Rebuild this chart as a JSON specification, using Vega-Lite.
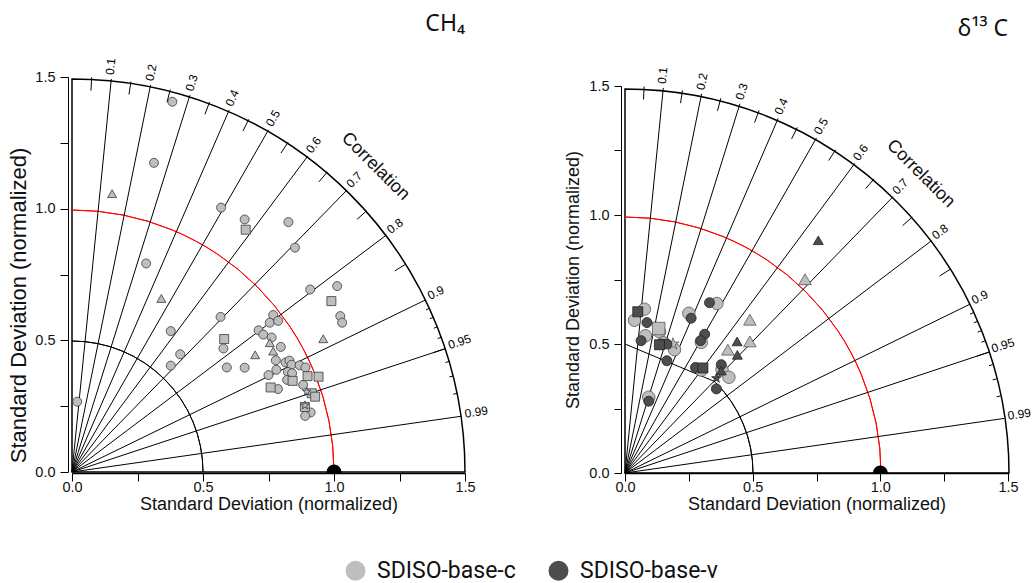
{
  "$schema": "https://vega.github.io/schema/vega-lite/v6.json",
  "background": "white",
  "padding": {"left": 7, "top": 12, "right": 5, "bottom": 6},
  "config": {
    "view": {"stroke": null},
    "axis": {"labelFont": "Liberation Sans", "titleFont": "Liberation Sans", "labelFontSize": 14.5, "titleFontSize": 18, "titleFontWeight": "normal", "labelColor": "#111", "titleColor": "#111", "domainColor": "#000", "tickColor": "#000", "grid": false, "labelFlush": false, "labelOverlap": false},
    "title": {"font": "Noto Sans", "fontSize": 23, "fontWeight": "normal", "color": "#111", "anchor": "end", "frame": "group"}
  },
  "datasets": {
    "outer": [{"x0": 0, "y0": 0, "r": 1.5, "r0": 0}],
    "red": [{"x0": 0, "y0": 0, "r": 1.0}],
    "half": [{"x0": 0, "y0": 0, "r": 0.5}],
    "radials": [
      {"x0": 0, "y0": 0, "x": 0.15, "y": 1.49248}, {"x0": 0, "y0": 0, "x": 0.30, "y": 1.46969}, {"x0": 0, "y0": 0, "x": 0.45, "y": 1.43091}, {"x0": 0, "y0": 0, "x": 0.60, "y": 1.37477},
      {"x0": 0, "y0": 0, "x": 0.75, "y": 1.29904}, {"x0": 0, "y0": 0, "x": 0.90, "y": 1.2}, {"x0": 0, "y0": 0, "x": 1.05, "y": 1.07121}, {"x0": 0, "y0": 0, "x": 1.2, "y": 0.9},
      {"x0": 0, "y0": 0, "x": 1.35, "y": 0.65383}, {"x0": 0, "y0": 0, "x": 1.425, "y": 0.46837}, {"x0": 0, "y0": 0, "x": 1.485, "y": 0.2116}
    ],
    "ticks": [
      {"x1": 0.0725, "y1": 1.44819, "x2": 0.075, "y2": 1.49812},
      {"x1": 0.2175, "y1": 1.4336, "x2": 0.225, "y2": 1.48303},
      {"x1": 0.3625, "y1": 1.40397, "x2": 0.375, "y2": 1.45237},
      {"x1": 0.5075, "y1": 1.35829, "x2": 0.525, "y2": 1.40513},
      {"x1": 0.6525, "y1": 1.29489, "x2": 0.675, "y2": 1.33954},
      {"x1": 0.7975, "y1": 1.21098, "x2": 0.825, "y2": 1.25274},
      {"x1": 0.9425, "y1": 1.1019, "x2": 0.975, "y2": 1.1399},
      {"x1": 1.0875, "y1": 0.95909, "x2": 1.125, "y2": 0.99216},
      {"x1": 1.2325, "y1": 0.76383, "x2": 1.275, "y2": 0.79017},
      {"x1": 1.3775, "y1": 0.45276, "x2": 1.425, "y2": 0.46837},
      {"x1": 1.35135, "y1": 0.6157, "x2": 1.365, "y2": 0.62191},
      {"x1": 1.3662, "y1": 0.582, "x2": 1.38, "y2": 0.58788},
      {"x1": 1.38105, "y1": 0.54584, "x2": 1.395, "y2": 0.55136},
      {"x1": 1.3959, "y1": 0.50664, "x2": 1.41, "y2": 0.51176},
      {"x1": 1.4256, "y1": 0.4158, "x2": 1.44, "y2": 0.42},
      {"x1": 1.44045, "y1": 0.361, "x2": 1.455, "y2": 0.36465},
      {"x1": 1.4553, "y1": 0.29552, "x2": 1.47, "y2": 0.2985}
    ],
    "labels": [
      {"lab": "0.1", "x": 0.1515, "y": 1.50741, "rot": -84.26},
      {"lab": "0.2", "x": 0.303, "y": 1.4844, "rot": -78.46},
      {"lab": "0.3", "x": 0.4545, "y": 1.44522, "rot": -72.54},
      {"lab": "0.4", "x": 0.606, "y": 1.38853, "rot": -66.42},
      {"lab": "0.5", "x": 0.7575, "y": 1.31203, "rot": -60},
      {"lab": "0.6", "x": 0.909, "y": 1.212, "rot": -53.13},
      {"lab": "0.7", "x": 1.0605, "y": 1.08192, "rot": -45.57},
      {"lab": "0.8", "x": 1.212, "y": 0.909, "rot": -36.87},
      {"lab": "0.9", "x": 1.3635, "y": 0.66037, "rot": -25.84},
      {"lab": "0.95", "x": 1.43925, "y": 0.47306, "rot": -18.19},
      {"lab": "0.99", "x": 1.49985, "y": 0.21372, "rot": -8.11}
    ],
    "corrtitle": [{"t": "Correlation", "x": 1.158, "y": 1.16}],
    "refpoint": [{"x": 1.0, "y": 0.0}],
    "chord": [{"x1": 0, "y1": 0.5, "x2": 0.35355, "y2": 0.35355}],
    "ch4": [
      {"x": 0.383, "y": 1.406, "shape": "circle", "model": "SDISO-base-c"},
      {"x": 0.313, "y": 1.174, "shape": "circle", "model": "SDISO-base-c"},
      {"x": 0.569, "y": 1.004, "shape": "circle", "model": "SDISO-base-c"},
      {"x": 0.659, "y": 0.959, "shape": "circle", "model": "SDISO-base-c"},
      {"x": 0.826, "y": 0.949, "shape": "circle", "model": "SDISO-base-c"},
      {"x": 0.851, "y": 0.852, "shape": "circle", "model": "SDISO-base-c"},
      {"x": 0.283, "y": 0.792, "shape": "circle", "model": "SDISO-base-c"},
      {"x": 1.012, "y": 0.706, "shape": "circle", "model": "SDISO-base-c"},
      {"x": 0.909, "y": 0.693, "shape": "circle", "model": "SDISO-base-c"},
      {"x": 1.024, "y": 0.592, "shape": "circle", "model": "SDISO-base-c"},
      {"x": 1.031, "y": 0.567, "shape": "circle", "model": "SDISO-base-c"},
      {"x": 0.567, "y": 0.589, "shape": "circle", "model": "SDISO-base-c"},
      {"x": 0.768, "y": 0.596, "shape": "circle", "model": "SDISO-base-c"},
      {"x": 0.755, "y": 0.567, "shape": "circle", "model": "SDISO-base-c"},
      {"x": 0.787, "y": 0.574, "shape": "circle", "model": "SDISO-base-c"},
      {"x": 0.377, "y": 0.535, "shape": "circle", "model": "SDISO-base-c"},
      {"x": 0.712, "y": 0.538, "shape": "circle", "model": "SDISO-base-c"},
      {"x": 0.73, "y": 0.522, "shape": "circle", "model": "SDISO-base-c"},
      {"x": 0.762, "y": 0.511, "shape": "circle", "model": "SDISO-base-c"},
      {"x": 0.578, "y": 0.469, "shape": "circle", "model": "SDISO-base-c"},
      {"x": 0.797, "y": 0.475, "shape": "circle", "model": "SDISO-base-c"},
      {"x": 0.413, "y": 0.447, "shape": "circle", "model": "SDISO-base-c"},
      {"x": 0.377, "y": 0.404, "shape": "circle", "model": "SDISO-base-c"},
      {"x": 0.591, "y": 0.397, "shape": "circle", "model": "SDISO-base-c"},
      {"x": 0.659, "y": 0.396, "shape": "circle", "model": "SDISO-base-c"},
      {"x": 0.778, "y": 0.424, "shape": "circle", "model": "SDISO-base-c"},
      {"x": 0.815, "y": 0.416, "shape": "circle", "model": "SDISO-base-c"},
      {"x": 0.83, "y": 0.423, "shape": "circle", "model": "SDISO-base-c"},
      {"x": 0.838, "y": 0.407, "shape": "circle", "model": "SDISO-base-c"},
      {"x": 0.869, "y": 0.405, "shape": "circle", "model": "SDISO-base-c"},
      {"x": 0.891, "y": 0.397, "shape": "circle", "model": "SDISO-base-c"},
      {"x": 0.78, "y": 0.388, "shape": "circle", "model": "SDISO-base-c"},
      {"x": 0.75, "y": 0.368, "shape": "circle", "model": "SDISO-base-c"},
      {"x": 0.824, "y": 0.38, "shape": "circle", "model": "SDISO-base-c"},
      {"x": 0.84, "y": 0.375, "shape": "circle", "model": "SDISO-base-c"},
      {"x": 0.821, "y": 0.35, "shape": "circle", "model": "SDISO-base-c"},
      {"x": 0.786, "y": 0.315, "shape": "circle", "model": "SDISO-base-c"},
      {"x": 0.882, "y": 0.331, "shape": "circle", "model": "SDISO-base-c"},
      {"x": 0.911, "y": 0.226, "shape": "circle", "model": "SDISO-base-c"},
      {"x": 0.89, "y": 0.213, "shape": "circle", "model": "SDISO-base-c"},
      {"x": 0.02, "y": 0.267, "shape": "circle", "model": "SDISO-base-c"},
      {"x": 0.153, "y": 1.057, "shape": "triangle", "model": "SDISO-base-c"},
      {"x": 0.341, "y": 0.659, "shape": "triangle", "model": "SDISO-base-c"},
      {"x": 0.959, "y": 0.506, "shape": "triangle", "model": "SDISO-base-c"},
      {"x": 0.755, "y": 0.491, "shape": "triangle", "model": "SDISO-base-c"},
      {"x": 0.768, "y": 0.459, "shape": "triangle", "model": "SDISO-base-c"},
      {"x": 0.699, "y": 0.445, "shape": "triangle", "model": "SDISO-base-c"},
      {"x": 0.663, "y": 0.92, "shape": "square", "model": "SDISO-base-c"},
      {"x": 0.99, "y": 0.649, "shape": "square", "model": "SDISO-base-c"},
      {"x": 0.581, "y": 0.505, "shape": "square", "model": "SDISO-base-c"},
      {"x": 0.899, "y": 0.364, "shape": "square", "model": "SDISO-base-c"},
      {"x": 0.941, "y": 0.362, "shape": "square", "model": "SDISO-base-c"},
      {"x": 0.842, "y": 0.346, "shape": "square", "model": "SDISO-base-c"},
      {"x": 0.758, "y": 0.321, "shape": "square", "model": "SDISO-base-c"},
      {"x": 0.915, "y": 0.299, "shape": "square", "model": "SDISO-base-c"},
      {"x": 0.928, "y": 0.286, "shape": "square", "model": "SDISO-base-c"},
      {"x": 0.889, "y": 0.247, "shape": "square", "model": "SDISO-base-c"},
      {"x": 0.896, "y": 0.305, "shape": "star", "model": "SDISO-base-c"},
      {"x": 0.889, "y": 0.253, "shape": "star", "model": "SDISO-base-c"}
    ],
    "d13c_c": [
      {"x": 0.076, "y": 0.635, "shape": "circle", "model": "SDISO-base-c"},
      {"x": 0.037, "y": 0.592, "shape": "circle", "model": "SDISO-base-c"},
      {"x": 0.135, "y": 0.548, "shape": "circle", "model": "SDISO-base-c"},
      {"x": 0.08, "y": 0.532, "shape": "circle", "model": "SDISO-base-c"},
      {"x": 0.15, "y": 0.505, "shape": "circle", "model": "SDISO-base-c"},
      {"x": 0.194, "y": 0.478, "shape": "circle", "model": "SDISO-base-c"},
      {"x": 0.25, "y": 0.619, "shape": "circle", "model": "SDISO-base-c"},
      {"x": 0.36, "y": 0.657, "shape": "circle", "model": "SDISO-base-c"},
      {"x": 0.299, "y": 0.506, "shape": "circle", "model": "SDISO-base-c"},
      {"x": 0.299, "y": 0.399, "shape": "circle", "model": "SDISO-base-c"},
      {"x": 0.38, "y": 0.4, "shape": "circle", "model": "SDISO-base-c"},
      {"x": 0.407, "y": 0.371, "shape": "circle", "model": "SDISO-base-c"},
      {"x": 0.093, "y": 0.294, "shape": "circle", "model": "SDISO-base-c"},
      {"x": 0.705, "y": 0.751, "shape": "triangle", "model": "SDISO-base-c"},
      {"x": 0.489, "y": 0.594, "shape": "triangle", "model": "SDISO-base-c"},
      {"x": 0.489, "y": 0.51, "shape": "triangle", "model": "SDISO-base-c"},
      {"x": 0.403, "y": 0.478, "shape": "triangle", "model": "SDISO-base-c"},
      {"x": 0.132, "y": 0.56, "shape": "square", "model": "SDISO-base-c"},
      {"x": 0.188, "y": 0.5, "shape": "star", "model": "SDISO-base-c"}
    ],
    "d13c_v": [
      {"x": 0.086, "y": 0.583, "shape": "circle", "model": "SDISO-base-v"},
      {"x": 0.063, "y": 0.513, "shape": "circle", "model": "SDISO-base-v"},
      {"x": 0.141, "y": 0.5, "shape": "circle", "model": "SDISO-base-v"},
      {"x": 0.164, "y": 0.5, "shape": "circle", "model": "SDISO-base-v"},
      {"x": 0.164, "y": 0.435, "shape": "circle", "model": "SDISO-base-v"},
      {"x": 0.259, "y": 0.6, "shape": "circle", "model": "SDISO-base-v"},
      {"x": 0.331, "y": 0.66, "shape": "circle", "model": "SDISO-base-v"},
      {"x": 0.312, "y": 0.538, "shape": "circle", "model": "SDISO-base-v"},
      {"x": 0.296, "y": 0.513, "shape": "circle", "model": "SDISO-base-v"},
      {"x": 0.276, "y": 0.409, "shape": "circle", "model": "SDISO-base-v"},
      {"x": 0.377, "y": 0.42, "shape": "circle", "model": "SDISO-base-v"},
      {"x": 0.358, "y": 0.326, "shape": "circle", "model": "SDISO-base-v"},
      {"x": 0.093, "y": 0.278, "shape": "circle", "model": "SDISO-base-v"},
      {"x": 0.05, "y": 0.625, "shape": "square", "model": "SDISO-base-v"},
      {"x": 0.305, "y": 0.407, "shape": "square", "model": "SDISO-base-v"},
      {"x": 0.135, "y": 0.497, "shape": "square", "model": "SDISO-base-v"},
      {"x": 0.757, "y": 0.902, "shape": "triangle", "model": "SDISO-base-v"},
      {"x": 0.439, "y": 0.51, "shape": "triangle", "model": "SDISO-base-v"},
      {"x": 0.44, "y": 0.458, "shape": "triangle", "model": "SDISO-base-v"},
      {"x": 0.377, "y": 0.397, "shape": "triangle", "model": "SDISO-base-v"},
      {"x": 0.358, "y": 0.367, "shape": "star", "model": "SDISO-base-v"}
    ]
  },
  "spacing": 160,
  "bounds": "flush",
  "resolve": {"scale": {"color": "shared", "shape": "shared"}, "legend": {"color": "shared"}},
  "hconcat": [
    {
      "width": 393,
      "height": 397,
      "title": {"text": "CH₄", "offset": 22},
      "layer": [
        {
          "data": {"name": "outer"},
          "mark": {"type": "arc", "theta": 0, "theta2": 1.5708, "fillOpacity": 0, "stroke": "#000", "strokeWidth": 1.5},
          "encoding": {
            "x": {"field": "x0", "type": "quantitative", "scale": {"domain": [0, 1.5], "nice": false, "zero": false},
              "axis": {"title": "Standard Deviation (normalized)", "values": [0, 0.25, 0.5, 0.75, 1, 1.25, 1.5], "labelExpr": "datum.value % 0.5 === 0 ? format(datum.value, '.1f') : ''", "offset": 0, "tickSize": 8, "labelPadding": -1, "titlePadding": 2, "domainWidth": 1.5}},
            "y": {"field": "y0", "type": "quantitative", "scale": {"domain": [0, 1.5], "range": [396, 1], "nice": false, "zero": false},
              "axis": {"title": "Standard Deviation (normalized)", "values": [0, 0.25, 0.5, 0.75, 1, 1.25, 1.5], "labelExpr": "datum.value % 0.5 === 0 ? format(datum.value, '.1f') : ''", "offset": 4, "tickSize": 8, "labelPadding": 5, "titleFontSize": 22, "titlePadding": 4, "titleY": 229}},
            "radius": {"field": "r", "type": "quantitative", "scale": {"type": "linear", "domain": [0, 1.5], "range": [0, 393], "zero": true}},
            "radius2": {"field": "r0"}
          }
        },
        {
          "data": {"name": "red"},
          "mark": {"type": "arc", "theta": 0, "theta2": 1.5708, "fillOpacity": 0, "stroke": "#ff0000", "strokeWidth": 1},
          "encoding": {
            "x": {"field": "x0", "type": "quantitative"},
            "y": {"field": "y0", "type": "quantitative"},
            "radius": {"field": "r", "type": "quantitative", "scale": {"type": "linear", "domain": [0, 1.5], "range": [0, 393], "zero": true}},
            "radius2": {"field": "r"}
          }
        },
        {
          "data": {"name": "half"},
          "mark": {"type": "arc", "theta": 0, "theta2": 1.5708, "fillOpacity": 0, "stroke": "#000", "strokeWidth": 1},
          "encoding": {
            "x": {"field": "x0", "type": "quantitative"},
            "y": {"field": "y0", "type": "quantitative"},
            "radius": {"field": "r", "type": "quantitative", "scale": {"type": "linear", "domain": [0, 1.5], "range": [0, 393], "zero": true}},
            "radius2": {"field": "r"}
          }
        },
        {
          "data": {"name": "radials"},
          "mark": {"type": "rule", "color": "#000", "strokeWidth": 1},
          "encoding": {
            "x": {"field": "x0", "type": "quantitative"},
            "y": {"field": "y0", "type": "quantitative"},
            "x2": {"field": "x"},
            "y2": {"field": "y"}
          }
        },
        {
          "data": {"name": "ticks"},
          "mark": {"type": "rule", "color": "#000", "strokeWidth": 1},
          "encoding": {
            "x": {"field": "x1", "type": "quantitative"},
            "y": {"field": "y1", "type": "quantitative"},
            "x2": {"field": "x2"},
            "y2": {"field": "y2"}
          }
        },
        {
          "data": {"name": "labels"},
          "mark": {"type": "text", "align": "left", "baseline": "middle", "dy": -2, "font": "Liberation Sans", "fontSize": 12, "color": "#000"},
          "encoding": {
            "x": {"field": "x", "type": "quantitative"},
            "y": {"field": "y", "type": "quantitative"},
            "text": {"field": "lab", "type": "nominal"},
            "angle": {"field": "rot", "type": "quantitative", "scale": null}
          }
        },
        {
          "data": {"name": "corrtitle"},
          "mark": {"type": "text", "align": "center", "baseline": "middle", "angle": 45, "font": "Liberation Sans", "fontSize": 18, "color": "#111"},
          "encoding": {
            "x": {"field": "x", "type": "quantitative"},
            "y": {"field": "y", "type": "quantitative"},
            "text": {"field": "t", "type": "nominal"}
          }
        },
        {
          "data": {"name": "refpoint"},
          "mark": {"type": "point", "filled": true, "color": "#000", "size": 225, "opacity": 1, "clip": true},
          "encoding": {
            "x": {"field": "x", "type": "quantitative"},
            "y": {"field": "y", "type": "quantitative"}
          }
        },
        {
          "data": {"name": "ch4"},
          "mark": {"type": "point", "filled": true, "size": 81, "opacity": 1, "stroke": "#3a3a3a", "strokeWidth": 0.8},
          "encoding": {
            "x": {"field": "x", "type": "quantitative"},
            "y": {"field": "y", "type": "quantitative"},
            "shape": {"field": "shape", "type": "nominal", "legend": null,
              "scale": {"domain": ["circle", "triangle", "square", "star"], "range": ["circle", "triangle-up", "square", "M0,-1L0.2245,-0.309L0.951,-0.309L0.363,0.118L0.588,0.809L0,0.382L-0.588,0.809L-0.363,0.118L-0.951,-0.309L-0.2245,-0.309Z"]}},
            "color": {"field": "model", "type": "nominal",
              "scale": {"domain": ["SDISO-base-c", "SDISO-base-v"], "range": ["#BEBEBE", "#4D4D4D"]},
              "legend": {"orient": "none", "legendX": 272, "legendY": 483, "direction": "horizontal", "title": null, "symbolType": "circle", "symbolSize": 400, "symbolStrokeWidth": 0, "labelFont": "Roboto", "labelFontSize": 23, "labelColor": "#111", "labelOffset": 10, "columnPadding": 31}}
          }
        }
      ]
    },
    {
      "width": 383,
      "height": 397,
      "title": {"text": "δ¹³ C", "offset": 26},
      "layer": [
        {
          "data": {"name": "outer"},
          "mark": {"type": "arc", "theta": 0, "theta2": 1.5708, "fillOpacity": 0, "stroke": "#000", "strokeWidth": 1.5},
          "encoding": {
            "x": {"field": "x0", "type": "quantitative", "scale": {"domain": [0, 1.5], "nice": false, "zero": false},
              "axis": {"title": "Standard Deviation (normalized)", "values": [0, 0.25, 0.5, 0.75, 1, 1.25, 1.5], "labelExpr": "datum.value % 0.5 === 0 ? format(datum.value, '.1f') : ''", "offset": 0, "tickSize": 8, "labelPadding": -1, "titlePadding": 2, "domainWidth": 1.5}},
            "y": {"field": "y0", "type": "quantitative", "scale": {"domain": [0, 1.5], "range": [397, 10], "nice": false, "zero": false},
              "axis": {"title": "Standard Deviation (normalized)", "values": [0, 0.25, 0.5, 0.75, 1, 1.25, 1.5], "labelExpr": "datum.value % 0.5 === 0 ? format(datum.value, '.1f') : ''", "offset": 4, "tickSize": 7, "labelPadding": 5, "titlePadding": 6}},
            "radius": {"field": "r", "type": "quantitative", "scale": {"type": "linear", "domain": [0, 1.5], "range": [0, 384], "zero": true}},
            "radius2": {"field": "r0"}
          }
        },
        {
          "data": {"name": "red"},
          "mark": {"type": "arc", "theta": 0, "theta2": 1.5708, "fillOpacity": 0, "stroke": "#ff0000", "strokeWidth": 1},
          "encoding": {
            "x": {"field": "x0", "type": "quantitative"},
            "y": {"field": "y0", "type": "quantitative"},
            "radius": {"field": "r", "type": "quantitative", "scale": {"type": "linear", "domain": [0, 1.5], "range": [0, 384], "zero": true}},
            "radius2": {"field": "r"}
          }
        },
        {
          "data": {"name": "half"},
          "mark": {"type": "arc", "theta": 0.7854, "theta2": 1.5708, "fillOpacity": 0, "stroke": "#000", "strokeWidth": 1},
          "encoding": {
            "x": {"field": "x0", "type": "quantitative"},
            "y": {"field": "y0", "type": "quantitative"},
            "radius": {"field": "r", "type": "quantitative", "scale": {"type": "linear", "domain": [0, 1.5], "range": [0, 384], "zero": true}},
            "radius2": {"field": "r"}
          }
        },
        {
          "data": {"name": "chord"},
          "mark": {"type": "rule", "color": "#000", "strokeWidth": 1},
          "encoding": {
            "x": {"field": "x1", "type": "quantitative"},
            "y": {"field": "y1", "type": "quantitative"},
            "x2": {"field": "x2"},
            "y2": {"field": "y2"}
          }
        },
        {
          "data": {"name": "radials"},
          "mark": {"type": "rule", "color": "#000", "strokeWidth": 1},
          "encoding": {
            "x": {"field": "x0", "type": "quantitative"},
            "y": {"field": "y0", "type": "quantitative"},
            "x2": {"field": "x"},
            "y2": {"field": "y"}
          }
        },
        {
          "data": {"name": "ticks"},
          "mark": {"type": "rule", "color": "#000", "strokeWidth": 1},
          "encoding": {
            "x": {"field": "x1", "type": "quantitative"},
            "y": {"field": "y1", "type": "quantitative"},
            "x2": {"field": "x2"},
            "y2": {"field": "y2"}
          }
        },
        {
          "data": {"name": "labels"},
          "mark": {"type": "text", "align": "left", "baseline": "middle", "dy": -2, "font": "Liberation Sans", "fontSize": 12, "color": "#000"},
          "encoding": {
            "x": {"field": "x", "type": "quantitative"},
            "y": {"field": "y", "type": "quantitative"},
            "text": {"field": "lab", "type": "nominal"},
            "angle": {"field": "rot", "type": "quantitative", "scale": null}
          }
        },
        {
          "data": {"name": "corrtitle"},
          "mark": {"type": "text", "align": "center", "baseline": "middle", "angle": 45, "font": "Liberation Sans", "fontSize": 18, "color": "#111"},
          "encoding": {
            "x": {"field": "x", "type": "quantitative"},
            "y": {"field": "y", "type": "quantitative"},
            "text": {"field": "t", "type": "nominal"}
          }
        },
        {
          "data": {"name": "refpoint"},
          "mark": {"type": "point", "filled": true, "color": "#000", "size": 225, "opacity": 1, "clip": true},
          "encoding": {
            "x": {"field": "x", "type": "quantitative"},
            "y": {"field": "y", "type": "quantitative"}
          }
        },
        {
          "data": {"name": "d13c_c"},
          "mark": {"type": "point", "filled": true, "size": 156, "opacity": 1, "stroke": "#555", "strokeWidth": 0.8},
          "encoding": {
            "x": {"field": "x", "type": "quantitative"},
            "y": {"field": "y", "type": "quantitative"},
            "shape": {"field": "shape", "type": "nominal", "legend": null,
              "scale": {"domain": ["circle", "triangle", "square", "star"], "range": ["circle", "triangle-up", "square", "M0,-1L0.2245,-0.309L0.951,-0.309L0.363,0.118L0.588,0.809L0,0.382L-0.588,0.809L-0.363,0.118L-0.951,-0.309L-0.2245,-0.309Z"]}},
            "color": {"field": "model", "type": "nominal",
              "scale": {"domain": ["SDISO-base-c", "SDISO-base-v"], "range": ["#BEBEBE", "#4D4D4D"]},
              "legend": {"orient": "none", "legendX": 272, "legendY": 483, "direction": "horizontal", "title": null, "symbolType": "circle", "symbolSize": 400, "symbolStrokeWidth": 0, "labelFont": "Roboto", "labelFontSize": 23, "labelColor": "#111", "labelOffset": 10, "columnPadding": 31}}
          }
        },
        {
          "data": {"name": "d13c_v"},
          "mark": {"type": "point", "filled": true, "size": 100, "opacity": 1, "stroke": "#222", "strokeWidth": 0.8},
          "encoding": {
            "x": {"field": "x", "type": "quantitative"},
            "y": {"field": "y", "type": "quantitative"},
            "shape": {"field": "shape", "type": "nominal", "legend": null,
              "scale": {"domain": ["circle", "triangle", "square", "star"], "range": ["circle", "triangle-up", "square", "M0,-1L0.2245,-0.309L0.951,-0.309L0.363,0.118L0.588,0.809L0,0.382L-0.588,0.809L-0.363,0.118L-0.951,-0.309L-0.2245,-0.309Z"]}},
            "color": {"field": "model", "type": "nominal",
              "scale": {"domain": ["SDISO-base-c", "SDISO-base-v"], "range": ["#BEBEBE", "#4D4D4D"]},
              "legend": {"orient": "none", "legendX": 272, "legendY": 483, "direction": "horizontal", "title": null, "symbolType": "circle", "symbolSize": 400, "symbolStrokeWidth": 0, "labelFont": "Roboto", "labelFontSize": 23, "labelColor": "#111", "labelOffset": 10, "columnPadding": 31}}
          }
        }
      ]
    }
  ]
}
